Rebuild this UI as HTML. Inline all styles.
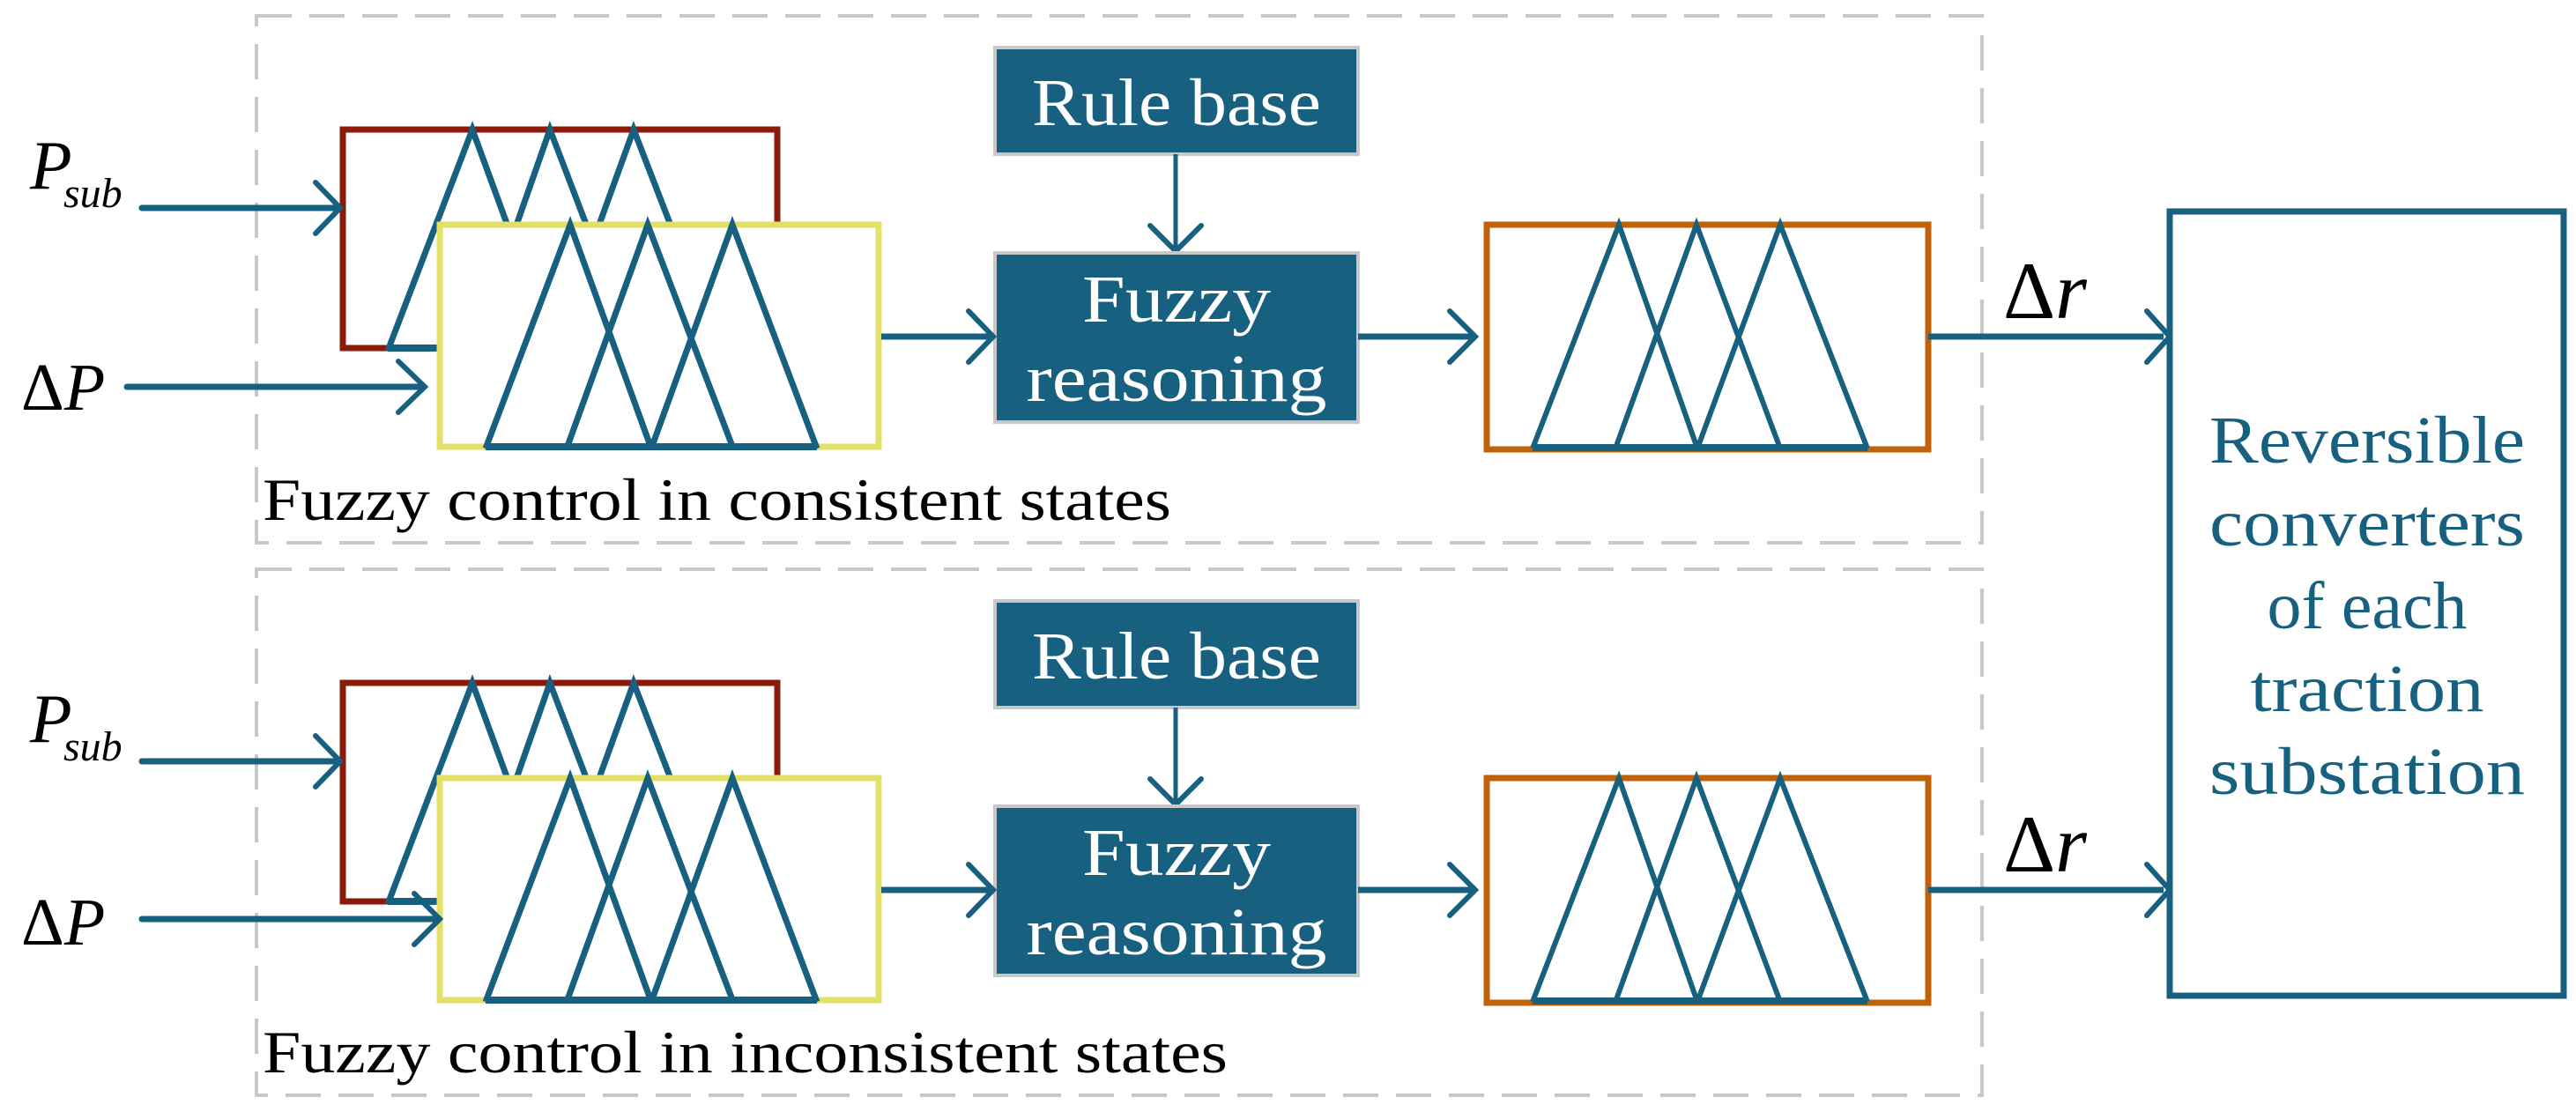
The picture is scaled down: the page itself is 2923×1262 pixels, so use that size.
<!DOCTYPE html>
<html><head><meta charset="utf-8"><style>
html,body{margin:0;padding:0;background:#fff;}
svg{display:block;}
text{font-family:"Liberation Serif",serif;}
</style></head><body>
<svg width="2923" height="1262" viewBox="0 0 2923 1262" xmlns="http://www.w3.org/2000/svg">
<defs>
<g id="panel">
  <rect x="389" y="147" width="493" height="248" fill="#fff" stroke="#8b1a08" stroke-width="7"/>
  <polyline points="440,398 536,147 628,398" fill="none" stroke="#17607f" stroke-width="7"/>
  <polyline points="536,398 624,147 720,398" fill="none" stroke="#17607f" stroke-width="7"/>
  <polyline points="628,398 719,147 816,398" fill="none" stroke="#17607f" stroke-width="7"/>
  <line x1="440" y1="395" x2="816" y2="395" stroke="#17607f" stroke-width="8"/>
  <rect x="499" y="255" width="498" height="252" fill="#fff" stroke="#e2e067" stroke-width="7"/>
  <polyline points="551,509 647,255 739,509" fill="none" stroke="#17607f" stroke-width="7"/>
  <polyline points="643,509 735,255 832,509" fill="none" stroke="#17607f" stroke-width="7"/>
  <polyline points="739,509 831,255 927,509" fill="none" stroke="#17607f" stroke-width="7"/>
  <line x1="551" y1="507" x2="927" y2="507" stroke="#17607f" stroke-width="8"/>
  <rect x="1129" y="54" width="412" height="121" fill="#17607f" stroke="#c8c8c8" stroke-width="4"/>
  <text x="1335" y="142" font-size="76" fill="#fff" text-anchor="middle" textLength="328" lengthAdjust="spacingAndGlyphs">Rule base</text>
  <line x1="1334" y1="175" x2="1334" y2="282" stroke="#17607f" stroke-width="5"/>
  <polyline points="1305,256 1334,285 1363,256" fill="none" stroke="#17607f" stroke-width="6" stroke-linecap="round"/>
  <rect x="1129" y="287" width="412" height="192" fill="#17607f" stroke="#c8c8c8" stroke-width="4"/>
  <text x="1335" y="365" font-size="76" fill="#fff" text-anchor="middle" textLength="214" lengthAdjust="spacingAndGlyphs">Fuzzy</text>
  <text x="1335" y="455" font-size="76" fill="#fff" text-anchor="middle" textLength="341" lengthAdjust="spacingAndGlyphs">reasoning</text>
  <line x1="1000" y1="382" x2="1124" y2="382" stroke="#17607f" stroke-width="7"/>
  <polyline points="1099,353 1127,382 1099,411" fill="none" stroke="#17607f" stroke-width="6" stroke-linecap="round"/>
  <line x1="1541" y1="382" x2="1672" y2="382" stroke="#17607f" stroke-width="7"/>
  <polyline points="1645,353 1674,382 1645,411" fill="none" stroke="#17607f" stroke-width="6" stroke-linecap="round"/>
  <rect x="1687" y="255" width="501" height="255" fill="#fff" stroke="#c0620a" stroke-width="7"/>
  <polyline points="1739,509 1837,255 1926,509" fill="none" stroke="#17607f" stroke-width="6"/>
  <polyline points="1833,509 1925,255 2020,509" fill="none" stroke="#17607f" stroke-width="6"/>
  <polyline points="1926,509 2020,255 2119,509" fill="none" stroke="#17607f" stroke-width="6"/>
  <line x1="1739" y1="508" x2="2119" y2="508" stroke="#17607f" stroke-width="8"/>
  <line x1="2188" y1="382" x2="2455" y2="382" stroke="#17607f" stroke-width="7"/>
  <polyline points="2436,353 2462,382 2436,411" fill="none" stroke="#17607f" stroke-width="6" stroke-linecap="round"/>
  <text x="2273" y="361" font-size="92" fill="#000">Δ<tspan font-style="italic">r</tspan></text>
  <text x="34" y="214" font-size="78" font-style="italic" fill="#000">P</text>
  <text x="72" y="235" font-size="48" font-style="italic" fill="#000">sub</text>
  <line x1="161" y1="236" x2="382" y2="236" stroke="#17607f" stroke-width="7" stroke-linecap="round"/>
  <polyline points="358,207 386,236 358,265" fill="none" stroke="#17607f" stroke-width="6" stroke-linecap="round"/>
</g>
</defs>

<rect x="291" y="18" width="1958" height="598" fill="none" stroke="#c8c8c8" stroke-width="4" stroke-dasharray="40,20"/>
<rect x="291" y="646" width="1958" height="597" fill="none" stroke="#c8c8c8" stroke-width="4" stroke-dasharray="40,20"/>

<use href="#panel"/>
<use href="#panel" transform="translate(0,628)"/>

<text x="24" y="465" font-size="76" fill="#000">Δ<tspan font-style="italic">P</tspan></text>
<line x1="144" y1="439" x2="478" y2="439" stroke="#17607f" stroke-width="7" stroke-linecap="round"/>
<polyline points="452,410 482,439 452,468" fill="none" stroke="#17607f" stroke-width="6" stroke-linecap="round"/>

<text x="24" y="1072" font-size="76" fill="#000">Δ<tspan font-style="italic">P</tspan></text>
<line x1="161" y1="1043" x2="495" y2="1043" stroke="#17607f" stroke-width="7" stroke-linecap="round"/>
<polyline points="470,1014 499,1043 470,1072" fill="none" stroke="#17607f" stroke-width="6" stroke-linecap="round"/>

<text x="298" y="590" font-size="68" fill="#000" textLength="1031" lengthAdjust="spacingAndGlyphs">Fuzzy control in consistent states</text>
<text x="298" y="1217" font-size="68" fill="#000" textLength="1095" lengthAdjust="spacingAndGlyphs">Fuzzy control in inconsistent states</text>

<rect x="2462" y="240" width="447" height="890" fill="#fff" stroke="#17607f" stroke-width="7"/>
<g font-size="76" fill="#17607f" text-anchor="middle" lengthAdjust="spacingAndGlyphs">
<text x="2686" y="525" textLength="358" lengthAdjust="spacingAndGlyphs">Reversible</text>
<text x="2686" y="619" textLength="358" lengthAdjust="spacingAndGlyphs">converters</text>
<text x="2686" y="713" textLength="227" lengthAdjust="spacingAndGlyphs">of each</text>
<text x="2686" y="807" textLength="265" lengthAdjust="spacingAndGlyphs">traction</text>
<text x="2686" y="901" textLength="358" lengthAdjust="spacingAndGlyphs">substation</text>
</g>
</svg>
</body></html>
